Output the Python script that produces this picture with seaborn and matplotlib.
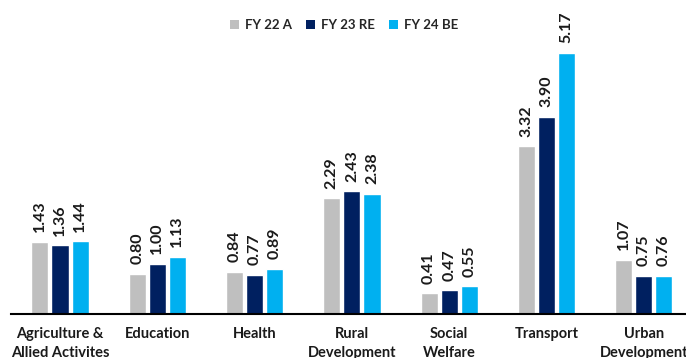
import matplotlib
matplotlib.use("Agg")
import matplotlib.pyplot as plt
import seaborn as sns
import pandas as pd

categories = ["Agriculture &\nAllied Activites", "Education", "Health", "Rural\nDevelopment",
              "Social\nWelfare", "Transport", "Urban\nDevelopment"]
series = ["FY 22 A", "FY 23 RE", "FY 24 BE"]
fy22 = [1.43, 0.80, 0.84, 2.29, 0.41, 3.32, 1.07]
fy23 = [1.36, 1.00, 0.77, 2.43, 0.47, 3.90, 0.75]
fy24 = [1.44, 1.13, 0.89, 2.38, 0.55, 5.17, 0.76]
colors = ["#BFBFBF", "#002060", "#00B0F0"]

rows = []
for s, vals in zip(series, [fy22, fy23, fy24]):
    for c, v in zip(categories, vals):
        rows.append({"cat": c, "series": s, "val": v})
df = pd.DataFrame(rows)

sns.set_theme(style="white")
plt.rcParams["font.family"] = ["Lato", "DejaVu Sans"]

fig = plt.figure(figsize=(6.86, 3.58), dpi=100)
ax = fig.add_axes([11.4 / 686, 44 / 358, 681 / 686, 303 / 358])
sns.barplot(data=df, x="cat", y="val", hue="series", palette=colors,
            width=0.62, gap=0.15, ax=ax, legend=False, saturation=1)
ax.set_xlim(-0.5, 6.5)
ax.set_ylim(0, 6.0)
for cont in ax.containers:
    ax.bar_label(cont, fmt="%.2f", rotation=90, padding=7, fontsize=11.5,
                 fontweight="bold", color="#1a1a1a")
ax.set_xlabel("")
ax.set_ylabel("")
ax.set_yticks([])
ax.tick_params(axis="x", length=0, pad=9.5)
for lab in ax.get_xticklabels():
    lab.set_fontweight("bold")
    lab.set_fontsize(10.5)
    lab.set_color("#1a1a1a")
    lab.set_linespacing(1.45)
    lab.set_va("top")
for sp in ["top", "right", "left"]:
    ax.spines[sp].set_visible(False)
ax.spines["bottom"].set_color("black")
ax.spines["bottom"].set_linewidth(1.5)

from matplotlib.patches import Patch
handles = [Patch(facecolor=c, edgecolor="none") for c in colors]
fig.legend(handles, series, loc="center", bbox_to_anchor=(344 / 686, 1 - 25 / 358),
           ncol=3, frameon=False, handlelength=0.7, handleheight=0.7,
           handletextpad=0.4, columnspacing=1.1,
           prop={"weight": "bold", "size": 9.5})
fig.savefig("out.png", dpi=100)
